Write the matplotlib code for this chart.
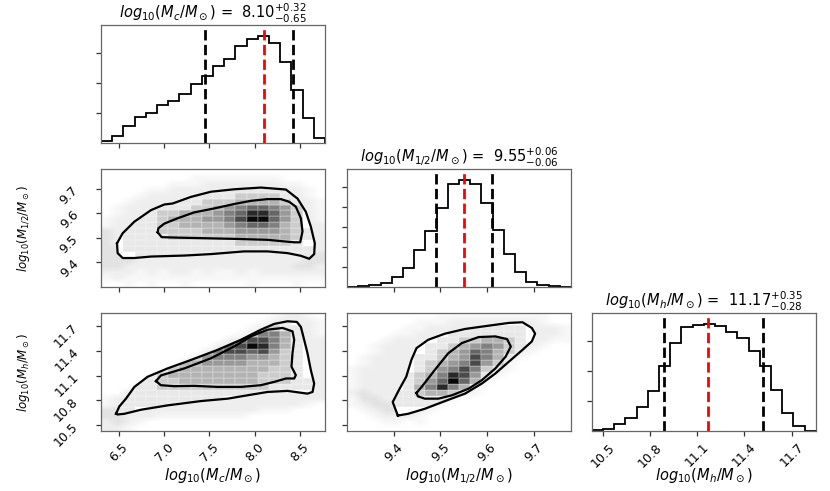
import numpy as np
import matplotlib
matplotlib.use("Agg")
import matplotlib.pyplot as plt
from matplotlib.colors import ListedColormap
from matplotlib.patches import Polygon

# axis / histogram ranges of the three parameters
mc_range = (6.30, 8.78)
m12_range = (9.30, 9.78)
mh_range = (10.43, 11.855)

labels = [r"$log_{10}(M_c/M_\odot)$", r"$log_{10}(M_{1/2}/M_\odot)$",
          r"$log_{10}(M_h/M_\odot)$"]
medians = [8.10, 9.55, 11.17]
err_lo = [0.65, 0.06, 0.28]
err_hi = [0.32, 0.06, 0.35]

mc_ticks = [6.5, 7.0, 7.5, 8.0, 8.5]
m12_ticks = [9.4, 9.5, 9.6, 9.7]
mh_ticks = [10.5, 10.8, 11.1, 11.4, 11.7]

# 1d histograms, 20 bins each
hist_mc = [55, 245, 555, 855, 1000, 1255, 1410, 1645, 1965, 2220,
           2555, 2800, 3240, 3465, 3575, 3330, 2700, 1775, 830, 165]
hist_m12 = [10, 15, 40, 100, 240, 475, 935, 1415, 1990, 2585,
            2685, 2575, 2115, 1435, 835, 375, 125, 50, 15, 10]
hist_mh = [20, 80, 245, 445, 800, 1320, 2155, 2940, 3465, 3540,
           3575, 3520, 3320, 3110, 2655, 2155, 1375, 610, 165, 10]

# 2d density maps, 20x20 bins, top row first, 0 (white) .. 9 (black)
dens_mc_m12 = [
    "....................",
    "....................",
    "....................",
    "........111111111...",
    "......111111222211..",
    ".....1111222333321..",
    "....11112234566542..",
    "...112233345688642..",
    "...112333445799642..",
    "..1112233334566532..",
    "..11122223334444321.",
    "..11112222223333321.",
    "..1111111111222221..",
    "..11111111111111111.",
    "...1111111111111111.",
    "....................",
    "....................",
    "....................",
    "....................",
    "....................",
]
dens_mc_mh = [
    "....................",
    "...............11...",
    "..............1211..",
    "............135531..",
    "...........2677531..",
    "..........36798531..",
    ".........357767421..",
    "........2455544321..",
    "......133444433321..",
    ".....1233333333221..",
    "....12333333332221..",
    "...1122333333322211.",
    "..11122222222221111.",
    "..11111111111111....",
    "..111111111.........",
    ".111111.............",
    ".11.................",
    "....................",
    "....................",
    "....................",
]
dens_m12_mh = [
    "....................",
    "....................",
    "..........111111....",
    ".........1111111....",
    "........11223321....",
    ".......112345421....",
    ".......123465321....",
    "......112347531.....",
    "......123457421.....",
    "......12457521......",
    ".....12358741.......",
    ".....12469631.......",
    ".....1358531........",
    "....1123321.........",
    "....111111..........",
    "....1111............",
    "....................",
    "....................",
    "....................",
    "....................",
]

# scattered samples outside the contours: '.' none, '-' sparse, '+' dense, '#' very dense
halo_mc_m12 = [
    "....................",
    "........--------....",
    "......---+++++++--..",
    "....--++++++++++++-.",
    "...-++++++++++++++-.",
    "..-++++++++++++++++-",
    ".-+++++++++++++++++-",
    ".-+++++++++++++++++-",
    "-++++++++++++++++++-",
    "-+++++++++++++++++++",
    "#+++++++++++++++++++",
    "#+++++++++++++++++++",
    "#+++++++++++++++++++",
    "##++++++++++++++++++",
    "###+++++++++++++++##",
    "###+++++++++++++++##",
    "##+++++++++++++++##+",
    "+++-+-++-+--+-++++++",
    "-+------------------",
    "..-.-..-.....-...-..",
]
halo_mc_mh = [
    "...............-++-.",
    "..............-++++-",
    ".............-+++++-",
    "............-++++++-",
    "...........+++++++++",
    "..........++++++++++",
    ".........+++++++++++",
    "........++++++++++++",
    ".......+++++++++++++",
    "......++++++++++++++",
    ".....+++++++++++++++",
    "....++++++++++++++++",
    "...+++++++++++++++++",
    "..++++++++++++++++++",
    "-+++++++++++++++++++",
    "-+++++++++++++++++-.",
    "##++++++++++++---...",
    "##+++--------.......",
    "+#+-................",
    "++-.................",
]
halo_m12_mh = [
    "........----------..",
    "......---++++++++-..",
    ".....--++++++++++++-",
    "....--+++++++++++++-",
    "...-++++++++++++++--",
    "..-++++++++++++++-..",
    "..-+++++++++++++-...",
    ".-+++++++++++++-....",
    ".-++++++++++++-.....",
    "-+++++++++++++-.....",
    "-++++++++++++-......",
    "-+++++++++++-.......",
    "-++++++++++-........",
    "+#+++++++++-........",
    "-##++++++-..........",
    "-+##+++--...........",
    ".-+###+-............",
    "..-+++-.............",
    "...--.-.............",
    "....................",
]

# contour lines (outer and inner), data units
out_mc_m12_x = [6.477, 6.540, 6.669, 6.853, 7.000, 7.092, 7.295, 7.516, 7.774, 8.069, 8.346,
                8.475, 8.567, 8.622, 8.666, 8.659, 8.604, 8.512, 8.364, 8.143, 7.885, 7.516,
                7.222, 6.853, 6.669, 6.540, 6.484]
out_mc_m12_y = [9.478, 9.519, 9.566, 9.613, 9.636, 9.640, 9.667, 9.688, 9.698, 9.705, 9.697,
                9.660, 9.606, 9.546, 9.478, 9.434, 9.415, 9.427, 9.438, 9.445, 9.445, 9.434,
                9.428, 9.424, 9.418, 9.418, 9.438]
in_mc_m12_x = [6.927, 6.971, 7.148, 7.406, 7.774, 8.143, 8.438, 8.504, 8.530, 8.512, 8.456,
               8.383, 8.290, 8.143, 7.959, 7.774, 7.553, 7.332, 7.148, 7.000, 6.934]
in_mc_m12_y = [9.523, 9.503, 9.501, 9.499, 9.496, 9.492, 9.482, 9.482, 9.526, 9.580, 9.627,
               9.647, 9.658, 9.658, 9.651, 9.638, 9.620, 9.604, 9.580, 9.558, 9.539]

out_mc_mh_x = [6.466, 6.503, 6.576, 6.669, 6.816, 7.037, 7.295, 7.590, 7.848, 8.069, 8.217,
               8.364, 8.467, 8.512, 8.548, 8.585, 8.622, 8.659, 8.641, 8.585, 8.364, 8.143,
               7.922, 7.701, 7.406, 7.037, 6.742, 6.558, 6.484]
out_mc_mh_y = [10.638, 10.727, 10.821, 10.963, 11.086, 11.187, 11.289, 11.411, 11.533, 11.655,
               11.725, 11.757, 11.749, 11.688, 11.533, 11.370, 11.167, 11.004, 10.902, 10.882,
               10.915, 10.902, 10.862, 10.821, 10.792, 10.740, 10.687, 10.638, 10.630]
in_mc_mh_x = [6.908, 6.963, 7.222, 7.516, 7.774, 7.959, 8.143, 8.309, 8.419, 8.438, 8.419,
              8.408, 8.456, 8.438, 8.346, 8.217, 8.069, 7.848, 7.590, 7.332, 7.111, 6.963]
in_mc_mh_y = [11.033, 11.102, 11.187, 11.309, 11.452, 11.574, 11.655, 11.676, 11.635, 11.533,
              11.370, 11.208, 11.106, 11.065, 11.065, 11.024, 10.984, 10.963, 10.963, 10.976,
              10.972, 10.984]

out_m12_mh_x = [9.409, 9.398, 9.413, 9.427, 9.438, 9.449, 9.474, 9.510, 9.553, 9.604, 9.647,
                9.676, 9.696, 9.703, 9.696, 9.676, 9.647, 9.618, 9.589, 9.553, 9.510, 9.467,
                9.431]
out_m12_mh_y = [10.617, 10.780, 10.943, 11.086, 11.289, 11.432, 11.533, 11.607, 11.664, 11.704,
                11.737, 11.745, 11.676, 11.607, 11.513, 11.411, 11.269, 11.126, 11.004, 10.882,
                10.792, 10.699, 10.638]
in_m12_mh_x = [9.449, 9.460, 9.488, 9.517, 9.546, 9.582, 9.618, 9.643, 9.651, 9.640, 9.618,
               9.589, 9.561, 9.525, 9.496, 9.467, 9.452]
in_m12_mh_y = [10.890, 10.963, 11.167, 11.370, 11.493, 11.566, 11.574, 11.541, 11.452, 11.330,
               11.187, 11.045, 10.943, 10.862, 10.821, 10.821, 10.849]


halo_level = {".": 0, "-": 1, "+": 2, "#": 3}
dens_cmap = ListedColormap([str(g) for g in
                            [1.0, 0.91, 0.80, 0.70, 0.60, 0.50, 0.40, 0.29, 0.16, 0.03]])

fig = plt.figure(figsize=(8.3, 4.91), dpi=100)

col_left = [0.1217, 0.418, 0.713]
row_bottom = [0.7088, 0.4155, 0.1222]
pw, ph = 0.270, 0.240

frame_col = "#666666"


def style_axes(ax):
    for s in ax.spines.values():
        s.set_color(frame_col)
        s.set_linewidth(0.9)
    ax.tick_params(direction="out", length=3.5, width=0.9, color="#333333",
                   labelsize=9)


def hist_panel(ax, counts, rng, ticks, i, ytick_step):
    edges = np.linspace(rng[0], rng[1], len(counts) + 1)
    ax.stairs(counts, edges, color="black", linewidth=1.3)
    ax.set_xlim(rng)
    ax.set_ylim(0, 1.1 * max(counts))
    lo = medians[i] - err_lo[i]
    hi = medians[i] + err_hi[i]
    for q in (lo, hi):
        ax.axvline(q, color="black", linestyle="--", linewidth=2)
    ax.axvline(medians[i], color="red", linestyle="--", linewidth=2)
    ax.set_xticks(ticks)
    ax.set_yticks(np.arange(ytick_step, 1.1 * max(counts), ytick_step))
    ax.set_yticklabels([])
    title = labels[i] + r" =  $%.2f^{+%.2f}_{-%.2f}$" % (medians[i], err_hi[i], err_lo[i])
    ax.set_title(title, fontsize=10.5, pad=3)
    style_axes(ax)


def density_panel(ax, dens, halo, xr, yr, out_x, out_y, in_x, in_y):
    H = np.array([[halo_level[c] for c in row] for row in halo], float)
    ax.imshow(H, extent=(xr[0], xr[1], yr[0], yr[1]), origin="upper",
              aspect="auto", cmap="Greys", vmin=0, vmax=15,
              interpolation="bilinear", zorder=0)
    poly = Polygon(np.column_stack([out_x, out_y]), closed=True,
                   facecolor="white", edgecolor="none", zorder=1)
    ax.add_patch(poly)
    D = np.array([[0 if c == "." else int(c) for c in row] for row in dens], float)
    xe = np.linspace(xr[0], xr[1], D.shape[1] + 1)
    ye = np.linspace(yr[0], yr[1], D.shape[0] + 1)
    pm = ax.pcolormesh(xe, ye, D[::-1], cmap=dens_cmap, vmin=-0.5, vmax=9.5,
                       edgecolors=(1, 1, 1, 0.15), linewidth=0.25, zorder=2)
    pm.set_clip_path(poly)
    for cx, cy in ((out_x, out_y), (in_x, in_y)):
        ax.plot(list(cx) + [cx[0]], list(cy) + [cy[0]], color="black",
                linewidth=1.6, zorder=3, solid_joinstyle="round")
    ax.set_xlim(xr)
    ax.set_ylim(yr)
    style_axes(ax)


# diagonal
ax00 = fig.add_axes([col_left[0], row_bottom[0], pw, ph])
hist_panel(ax00, hist_mc, mc_range, mc_ticks, 0, 1000)
ax00.set_xticklabels([])

ax11 = fig.add_axes([col_left[1], row_bottom[1], pw, ph])
hist_panel(ax11, hist_m12, m12_range, m12_ticks, 1, 500)
ax11.set_xticklabels([])

ax22 = fig.add_axes([col_left[2], row_bottom[2], pw, ph])
hist_panel(ax22, hist_mh, mh_range, mh_ticks, 2, 1000)

# off-diagonal
ax10 = fig.add_axes([col_left[0], row_bottom[1], pw, ph])
density_panel(ax10, dens_mc_m12, halo_mc_m12, mc_range, m12_range,
              out_mc_m12_x, out_mc_m12_y, in_mc_m12_x, in_mc_m12_y)
ax10.set_xticks(mc_ticks)
ax10.set_xticklabels([])
ax10.set_yticks(m12_ticks)

ax20 = fig.add_axes([col_left[0], row_bottom[2], pw, ph])
density_panel(ax20, dens_mc_mh, halo_mc_mh, mc_range, mh_range,
              out_mc_mh_x, out_mc_mh_y, in_mc_mh_x, in_mc_mh_y)
ax20.set_xticks(mc_ticks)
ax20.set_yticks(mh_ticks)

ax21 = fig.add_axes([col_left[1], row_bottom[2], pw, ph])
density_panel(ax21, dens_m12_mh, halo_m12_mh, m12_range, mh_range,
              out_m12_mh_x, out_m12_mh_y, in_m12_mh_x, in_m12_mh_y)
ax21.set_xticks(m12_ticks)
ax21.set_yticks(mh_ticks)
ax21.set_yticklabels([])

# tick label rotation like corner
for ax in (ax20, ax21, ax22):
    for lab in ax.get_xticklabels():
        lab.set_rotation(45)
        lab.set_ha("center")
for ax in (ax10, ax20):
    ax.tick_params(axis="y", pad=11)
    for lab in ax.get_yticklabels():
        lab.set_rotation(45)

for ax, i in ((ax20, 0), (ax21, 1), (ax22, 2)):
    ax.set_xlabel(labels[i], fontsize=10.5)
    ax.xaxis.set_label_coords(0.5, -0.30)
for ax, i in ((ax10, 1), (ax20, 2)):
    ax.set_ylabel(labels[i], fontsize=8.5)
    ax.yaxis.set_label_coords(-0.31, 0.5)

fig.savefig("out.png", dpi=100)
